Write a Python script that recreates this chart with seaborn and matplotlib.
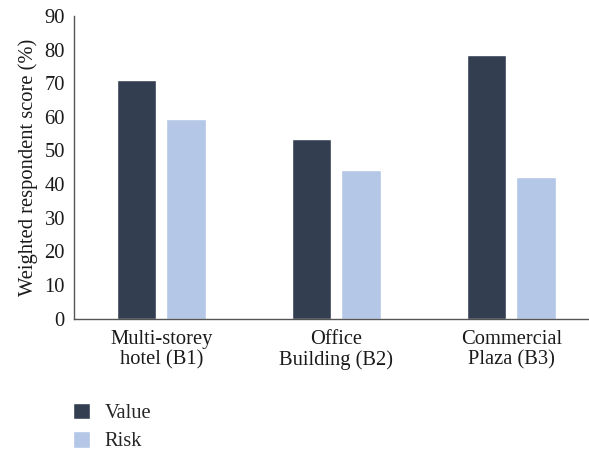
import matplotlib
matplotlib.use("Agg")
import matplotlib.pyplot as plt
import seaborn as sns
import pandas as pd

# Weighted respondent scores per building
buildings = ["Multi-storey\nhotel (B1)", "Office\nBuilding (B2)", "Commercial\nPlaza (B3)"]
value_scores = [71.0, 53.4, 78.4]
risk_scores = [59.4, 44.2, 42.1]
series_names = ["Value", "Risk"]
y_ticks = [0, 10, 20, 30, 40, 50, 60, 70, 80, 90]

df = pd.DataFrame({
    "Building": buildings * 2,
    "Series": [series_names[0]] * 3 + [series_names[1]] * 3,
    "Score": value_scores + risk_scores,
})

sns.set_theme(style="white")
plt.rcParams["font.family"] = ["Liberation Serif", "DejaVu Serif"]

FS = 14.8

fig = plt.figure(figsize=(5.89, 4.53), dpi=100)
ax = fig.add_axes([74 / 589, 1 - 318.5 / 453, 1 - 74 / 589, (318.5 - 16) / 453])

sns.barplot(
    data=df, x="Building", y="Score", hue="Series",
    palette=["#333f50", "#b4c7e7"], width=0.571, gap=0.2,
    saturation=1, ax=ax, legend=True,
)

ax.set_ylim(0, 90)
ax.set_xlim(-0.5, 2.443)
ax.set_yticks(y_ticks)
ax.set_yticklabels([str(t) for t in y_ticks])
ax.set_xlabel("")
ax.set_ylabel("Weighted respondent score (%)", fontsize=FS, color="#1a1a1a", labelpad=5)
ax.tick_params(axis="both", length=0, labelsize=FS, colors="#1a1a1a")
ax.tick_params(axis="x", pad=8)
ax.tick_params(axis="y", pad=6.5)
for lbl in ax.get_xticklabels():
    lbl.set_linespacing(1.12)

for side in ["top", "right"]:
    ax.spines[side].set_visible(False)
for side in ["left", "bottom"]:
    ax.spines[side].set_color("#555555")
    ax.spines[side].set_linewidth(1.0)

handles, labels = ax.get_legend_handles_labels()
ax.get_legend().remove()
fig.legend(
    handles, labels, loc="upper left",
    bbox_to_anchor=(73 / 589, 1 - 403 / 453),
    frameon=False, fontsize=FS, borderpad=0, borderaxespad=0,
    handlelength=0.85, handleheight=0.85, handletextpad=0.7,
    labelspacing=0.38,
)

fig.savefig("out.png", dpi=100)
